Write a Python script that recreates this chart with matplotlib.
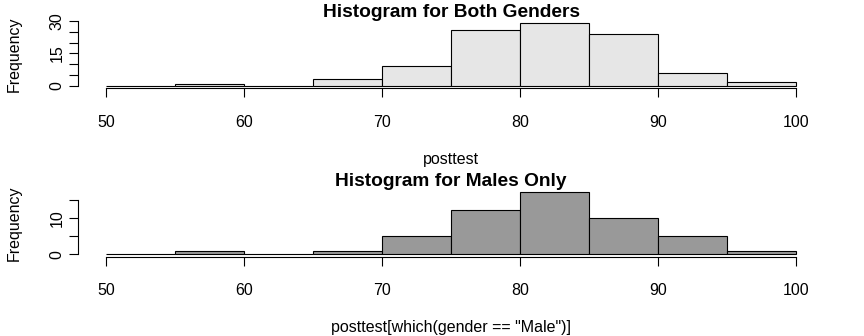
import matplotlib
matplotlib.use("Agg")
import matplotlib.pyplot as plt

plt.rcParams["font.family"] = ["Liberation Sans", "DejaVu Sans"]

# Score bins and the frequency in each bin
bin_edges = [50, 55, 60, 65, 70, 75, 80, 85, 90, 95, 100]
counts_all = [0, 1, 0, 3, 9, 26, 29, 24, 6, 2]
counts_male = [0, 1, 0, 1, 5, 12, 17, 10, 5, 1]

x_ticks = [50, 60, 70, 80, 90, 100]
y_ticks_all = [0, 5, 10, 15, 20, 25, 30]
y_labels_all = ["0", "", "", "15", "", "", "30"]
y_ticks_male = [0, 5, 10, 15]
y_labels_male = ["0", "", "10", ""]

titles = ["Histogram for Both Genders", "Histogram for Males Only"]
xlabels = ["posttest", 'posttest[which(gender == "Male")]']
fills = ["#E6E6E6", "#999999"]

W, H = 864, 336
fig = plt.figure(figsize=(W / 100, H / 100), dpi=100)

left = 78.4 / W
width = (823.9 - 78.4) / W
panels = [
    dict(counts=counts_all, yt=y_ticks_all, yl=y_labels_all,
         box=(left, (H - 88.5) / H, width, (88.5 - 20.65) / H), tpad=-1.5),
    dict(counts=counts_male, yt=y_ticks_male, yl=y_labels_male,
         box=(left, (H - 256.7) / H, width, (256.7 - 189.8) / H), tpad=2.7),
]

lw = 0.8
for i, p in enumerate(panels):
    ax = fig.add_axes(p["box"])
    ax.hist(bin_edges[:-1], bins=bin_edges, weights=p["counts"],
            color=fills[i], edgecolor="black", linewidth=lw)
    ymax = max(p["counts"])
    ax.set_xlim(48, 102)
    ax.set_ylim(-0.04 * ymax, 1.04 * ymax)

    for s in ("top", "right"):
        ax.spines[s].set_visible(False)
    ax.spines["bottom"].set_bounds(x_ticks[0], x_ticks[-1])
    ax.spines["left"].set_bounds(p["yt"][0], p["yt"][-1])
    for s in ("bottom", "left"):
        ax.spines[s].set_linewidth(lw)

    ax.set_xticks(x_ticks)
    ax.set_yticks(p["yt"])
    ax.set_yticklabels(p["yl"], rotation=90, va="center")
    ax.tick_params(axis="x", length=6.5, width=lw, pad=12.5, labelsize=11.5)
    ax.tick_params(axis="y", length=6.3, width=lw, pad=3.5, labelsize=11.5)

    ax.set_title(titles[i], fontsize=13.8, fontweight="bold", pad=p["tpad"])
    ax.set_xlabel(xlabels[i], fontsize=11.5, labelpad=16)
    ax.set_ylabel("Frequency", fontsize=11.5, labelpad=20.5)

fig.savefig("out.png", dpi=100, facecolor="white")
